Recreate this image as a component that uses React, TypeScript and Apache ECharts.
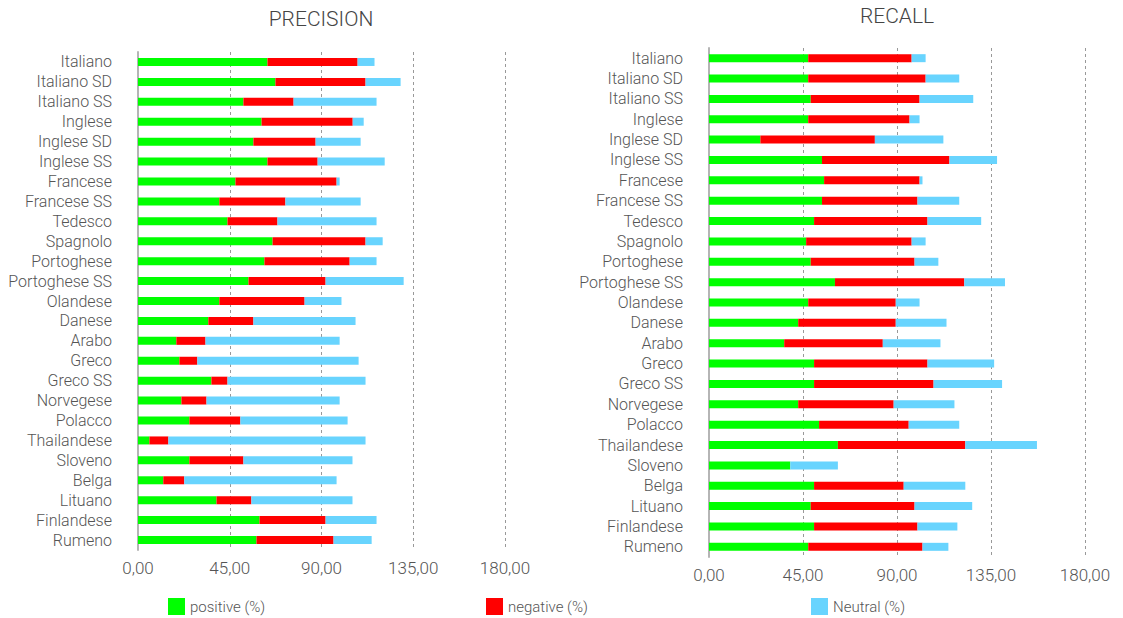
import React, { useEffect, useRef } from "react";
import * as echarts from "echarts";

const categories = [
  "Italiano", "Italiano SD", "Italiano SS", "Inglese", "Inglese SD", "Inglese SS",
  "Francese", "Francese SS", "Tedesco", "Spagnolo", "Portoghese", "Portoghese SS",
  "Olandese", "Danese", "Arabo", "Greco", "Greco SS", "Norvegese", "Polacco",
  "Thailandese", "Sloveno", "Belga", "Lituano", "Finlandese", "Rumeno",
];

const precisionPositive = [63.5, 67.4, 51.7, 60.6, 56.6, 63.5, 47.8, 39.9, 43.9, 66.0, 62.0, 54.2, 39.9, 34.5, 18.8, 20.3, 36.0, 21.3, 25.2, 5.6, 25.2, 12.4, 38.5, 59.6, 58.1];
const precisionNegative = [44.2, 44.2, 24.6, 44.7, 30.5, 24.6, 49.6, 32.4, 24.5, 45.6, 41.8, 37.8, 41.8, 22.1, 14.3, 8.8, 7.9, 12.3, 25.0, 9.3, 26.5, 10.3, 17.1, 32.4, 37.8];
const precisionNeutral = [8.3, 17.2, 40.7, 5.4, 22.1, 32.9, 1.5, 36.9, 48.6, 8.4, 13.2, 38.3, 18.1, 50.1, 65.8, 79.1, 67.7, 65.3, 52.6, 96.7, 53.5, 74.7, 49.6, 25.0, 18.7];

const recallPositive = [47.5, 47.5, 48.7, 47.5, 24.6, 54.1, 55.1, 54.1, 50.3, 46.5, 48.7, 60.3, 47.5, 42.7, 36.0, 50.3, 50.3, 42.7, 52.7, 61.7, 38.9, 50.3, 48.7, 50.3, 47.5];
const recallNegative = [49.5, 56.2, 52.1, 48.5, 54.8, 61.0, 45.7, 45.7, 54.3, 50.5, 49.7, 61.9, 41.9, 46.7, 47.2, 54.3, 57.2, 45.7, 42.9, 61.0, 0, 42.9, 49.7, 49.5, 54.7];
const recallNeutral = [6.7, 16.1, 25.7, 4.8, 32.8, 22.8, 1.4, 20.0, 25.7, 6.7, 11.4, 19.5, 11.4, 24.3, 27.6, 31.9, 32.8, 29.1, 24.2, 34.3, 22.8, 29.5, 27.6, 19.1, 12.4];

const xTicks = [0, 45, 90, 135, 180];
const seriesNames = ["positive (%)", "negative (%)", "Neutral (%)"];
const colors = ["#00ff00", "#ff0000", "#68d4fe"];

const FONT = "Roboto";

export default function App() {
  const ref = useRef<HTMLDivElement>(null);

  useEffect(() => {
    if (!ref.current) return;
    const chart = echarts.init(ref.current, undefined, { renderer: "svg" });

    const valueAxis = (gridIndex: number) => ({
      type: "value",
      gridIndex,
      min: xTicks[0],
      max: xTicks[xTicks.length - 1],
      interval: 45,
      axisLine: { show: false },
      axisTick: { show: false },
      axisLabel: {
        fontFamily: FONT,
        fontWeight: 300,
        fontSize: 17,
        color: "#555",
        margin: 9,
        formatter: (v: number) => v.toFixed(2).replace(".", ","),
      },
      splitLine: { show: true, lineStyle: { color: "#999", type: [3, 3], width: 1 } },
    });

    const catAxis = (gridIndex: number) => ({
      type: "category",
      gridIndex,
      data: categories,
      inverse: true,
      axisTick: { show: false },
      axisLine: { show: true, lineStyle: { color: "#b5b5b5", width: 2 } },
      axisLabel: {
        fontFamily: FONT,
        fontWeight: 300,
        fontSize: 16,
        color: "#555",
        margin: 26,
        interval: 0,
      },
    });

    const mkSeries = (data: number[][], idx: number, stack: string) =>
      data.map((d, i) => ({
        name: seriesNames[i],
        type: "bar",
        stack,
        xAxisIndex: idx,
        yAxisIndex: idx,
        data: d,
        barWidth: 8,
        itemStyle: { color: colors[i] },
      }));

    chart.setOption({
      animation: false,
      backgroundColor: "#ffffff",
      title: [
        {
          text: "PRECISION",
          left: 321,
          top: 8,
          padding: 0,
          textAlign: "center",
          textStyle: { fontFamily: FONT, fontWeight: 300, fontSize: 21, color: "#444" },
        },
        {
          text: "RECALL",
          left: 897,
          top: 5,
          padding: 0,
          textAlign: "center",
          textStyle: { fontFamily: FONT, fontWeight: 300, fontSize: 21, color: "#444" },
        },
      ],
      legend: seriesNames.map((n, i) => ({
        data: [n],
        left: [168, 486, 811][i],
        top: 598,
        padding: 0,
        itemWidth: 17,
        itemHeight: 17,
        icon: "rect",
        itemGap: 5,
        textStyle: { fontFamily: FONT, fontWeight: 300, fontSize: 15, color: "#555" },
      })),
      grid: [
        { left: 138, top: 52, width: 367, height: 498 },
        { left: 709, top: 48, width: 376, height: 509 },
      ],
      xAxis: [valueAxis(0), valueAxis(1)],
      yAxis: [catAxis(0), catAxis(1)],
      series: [
        ...mkSeries([precisionPositive, precisionNegative, precisionNeutral], 0, "p"),
        ...mkSeries([recallPositive, recallNegative, recallNeutral], 1, "r"),
      ],
    });

    return () => chart.dispose();
  }, []);

  return (
    <div
      ref={ref}
      style={{ position: "fixed", left: 0, top: 0, width: 1123, height: 618, background: "#fff" }}
    />
  );
}
